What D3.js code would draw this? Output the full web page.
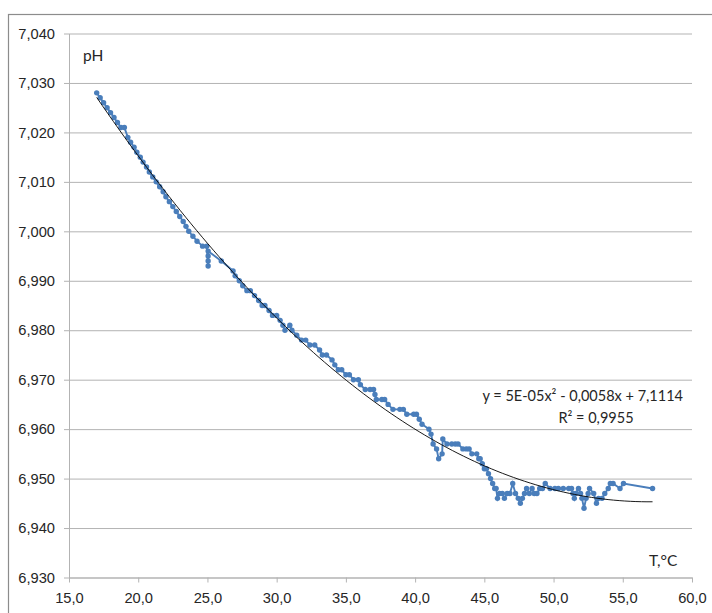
<!DOCTYPE html>
<html>
<head>
<meta charset="utf-8">
<title>pH vs T</title>
<script src="https://d3js.org/d3.v7.min.js"></script>
<style>
body { margin: 0; background: #fff; }
svg { display: block; font-family: Lato, "Open Sans", sans-serif; }
.grid line { stroke: #b3b3b3; }
.grid path { display: none; }
.axis path, .axis line { stroke: #b3b3b3; }
.axis text { fill: #262626; font-size: 14.7px; }
</style>
</head>
<body>
<script>
// T, °C
const temperature = [
  17.00, 17.25, 17.50, 17.75, 18.00, 18.25, 18.50, 18.75, 19.00, 19.25,
  19.45, 19.70, 19.90, 20.15, 20.35, 20.60, 20.80, 21.05, 21.30, 21.55,
  21.80, 22.00, 22.25, 22.50, 22.75, 23.00, 23.25, 23.45, 23.65, 23.95,
  24.25, 24.65, 24.95, 25.05, 25.05, 25.05, 25.05, 26.00, 26.85, 27.00,
  27.30, 27.55, 27.85, 28.10, 28.40, 28.70, 28.95, 29.15, 29.45, 29.70,
  30.00, 30.25, 30.45, 30.60, 30.95, 31.10, 31.45, 31.80, 32.10, 32.40,
  32.75, 33.10, 33.30, 33.60, 34.00, 34.20, 34.45, 34.70, 35.00, 35.25,
  35.55, 35.90, 36.05, 36.40, 36.75, 37.00, 37.10, 37.20, 37.60, 37.80,
  38.05, 38.40, 38.90, 39.15, 39.40, 39.90, 40.10, 40.30, 40.50, 41.00,
  41.15, 41.30, 41.55, 41.70, 41.95, 42.00, 42.30, 42.65, 42.90, 43.10,
  43.45, 43.70, 43.90, 44.10, 44.45, 44.60, 44.70, 44.85, 45.00, 45.15,
  45.30, 45.45, 45.60, 45.75, 45.85, 45.95, 46.10, 46.30, 46.45, 46.65,
  46.85, 47.05, 47.25, 47.45, 47.60, 47.75, 47.90, 48.05, 48.25, 48.45,
  48.60, 48.80, 49.00, 49.20, 49.40, 49.75, 50.10, 50.35, 50.70, 51.10,
  51.30, 51.40, 51.50, 51.60, 51.80, 51.95, 52.05, 52.20, 52.35, 52.50,
  52.60, 52.90, 53.10, 53.25, 53.50, 53.70, 53.95, 54.10, 54.30, 54.80,
  55.05, 57.15
];
const ph = [
  7.028, 7.027, 7.026, 7.025, 7.024, 7.023, 7.022, 7.021, 7.021, 7.019,
  7.018, 7.017, 7.016, 7.015, 7.014, 7.013, 7.012, 7.011, 7.010, 7.009,
  7.008, 7.007, 7.006, 7.005, 7.004, 7.003, 7.002, 7.001, 7.000, 6.999,
  6.998, 6.997, 6.997, 6.993, 6.994, 6.995, 6.996, 6.994, 6.992, 6.991,
  6.990, 6.989, 6.988, 6.988, 6.987, 6.986, 6.985, 6.985, 6.984, 6.983,
  6.983, 6.982, 6.981, 6.980, 6.981, 6.980, 6.979, 6.978, 6.978, 6.977,
  6.977, 6.976, 6.975, 6.975, 6.974, 6.973, 6.972, 6.972, 6.971, 6.971,
  6.970, 6.970, 6.969, 6.968, 6.968, 6.968, 6.967, 6.966, 6.966, 6.966,
  6.965, 6.964, 6.964, 6.964, 6.963, 6.963, 6.963, 6.962, 6.961, 6.960,
  6.959, 6.957, 6.956, 6.954, 6.955, 6.958, 6.957, 6.957, 6.957, 6.957,
  6.956, 6.956, 6.956, 6.955, 6.955, 6.954, 6.954, 6.953, 6.952, 6.952,
  6.951, 6.950, 6.949, 6.948, 6.948, 6.946, 6.947, 6.947, 6.946, 6.947,
  6.947, 6.949, 6.947, 6.946, 6.945, 6.946, 6.947, 6.948, 6.947, 6.948,
  6.947, 6.947, 6.948, 6.948, 6.949, 6.948, 6.948, 6.948, 6.948, 6.948,
  6.948, 6.947, 6.946, 6.947, 6.948, 6.947, 6.946, 6.944, 6.946, 6.947,
  6.948, 6.947, 6.945, 6.946, 6.946, 6.947, 6.948, 6.949, 6.949, 6.948,
  6.949, 6.948
];
const xTicks = [15, 20, 25, 30, 35, 40, 45, 50, 55, 60];
const yTicks = [6.93, 6.94, 6.95, 6.96, 6.97, 6.98, 6.99, 7.00, 7.01, 7.02, 7.03, 7.04];
const equationText = 'y = 5E-05x² - 0,0058x + 7,1114';
const r2Text = 'R² = 0,9955';

const W = 712, H = 613;
const plotLeft = 69, plotRight = 692, plotTop = 33.5, plotBottom = 577.5;

const locale = d3.formatLocale({ decimal: ',', thousands: ' ', grouping: [3], currency: ['', ''] });

const data = temperature.map((t, i) => ({ t: t, ph: ph[i] }));

const x = d3.scaleLinear().domain([15, 60]).range([plotLeft, plotRight]);
const y = d3.scaleLinear().domain([6.93, 7.04]).range([plotBottom, plotTop]);

const svg = d3.select('body').append('svg').attr('width', W).attr('height', H);

// outer chart border
svg.append('rect')
  .attr('x', 8.5).attr('y', 14.5).attr('width', 720).attr('height', 620)
  .attr('fill', 'none').attr('stroke', '#8c8c8c').attr('stroke-width', 1.2);

// horizontal gridlines
svg.append('g').attr('class', 'grid')
  .attr('transform', 'translate(' + plotLeft + ',0)')
  .call(d3.axisLeft(y).tickValues(yTicks).tickSize(-(plotRight - plotLeft)).tickFormat(''));

svg.append('g').attr('class', 'axis')
  .attr('transform', 'translate(' + plotLeft + ',0)')
  .call(d3.axisLeft(y).tickValues(yTicks).tickSize(5).tickPadding(9).tickSizeOuter(0)
    .tickFormat(locale.format('.3f')));

svg.append('g').attr('class', 'axis')
  .attr('transform', 'translate(0,' + plotBottom + ')')
  .call(d3.axisBottom(x).tickValues(xTicks).tickSize(5).tickPadding(10).tickSizeOuter(0)
    .tickFormat(locale.format('.1f')));

// least squares quadratic trendline from the data
function fitQuadratic(xs, ys) {
  let s = [0, 0, 0, 0, 0], b = [0, 0, 0];
  xs.forEach((v, i) => {
    let p = 1;
    for (let k = 0; k < 5; k++) { s[k] += p; if (k < 3) b[k] += p * ys[i]; p *= v; }
  });
  let m = [[s[0], s[1], s[2], b[0]], [s[1], s[2], s[3], b[1]], [s[2], s[3], s[4], b[2]]];
  for (let c = 0; c < 3; c++) {
    for (let r = c + 1; r < 3; r++) {
      let f = m[r][c] / m[c][c];
      for (let k = c; k < 4; k++) m[r][k] -= f * m[c][k];
    }
  }
  let coef = [0, 0, 0];
  for (let r = 2; r >= 0; r--) {
    let v = m[r][3];
    for (let k = r + 1; k < 3; k++) v -= m[r][k] * coef[k];
    coef[r] = v / m[r][r];
  }
  return coef;
}
const coef = fitQuadratic(temperature, ph);
const tMin = d3.min(temperature), tMax = d3.max(temperature);
const trend = d3.range(0, 101).map(i => {
  const t = tMin + (tMax - tMin) * i / 100;
  return { t: t, ph: coef[0] + coef[1] * t + coef[2] * t * t };
});

const line = d3.line().x(d => x(d.t)).y(d => y(d.ph));

svg.append('path').datum(data)
  .attr('d', line).attr('fill', 'none')
  .attr('stroke', '#4a7ebb').attr('stroke-width', 1.9);

svg.append('g').selectAll('circle').data(data).enter()
  .append('circle')
  .attr('cx', d => x(d.t)).attr('cy', d => y(d.ph)).attr('r', 2.7)
  .attr('fill', '#4a7ebb');

svg.append('path').datum(trend)
  .attr('d', line).attr('fill', 'none')
  .attr('stroke', '#000').attr('stroke-width', 0.9);

// labels
svg.append('text').attr('x', 83).attr('y', 61)
  .attr('font-size', 15.5).attr('fill', '#262626').text('pH');
svg.append('text').attr('x', 649).attr('y', 566)
  .attr('font-size', 15.5).attr('fill', '#262626').text('T,°C');

svg.append('text').attr('x', 683).attr('y', 401).attr('text-anchor', 'end')
  .attr('font-size', 14.5).attr('fill', '#262626').text(equationText);
svg.append('text').attr('x', 596).attr('y', 423).attr('text-anchor', 'middle')
  .attr('font-size', 14.5).attr('fill', '#262626').text(r2Text);
</script>
</body>
</html>
